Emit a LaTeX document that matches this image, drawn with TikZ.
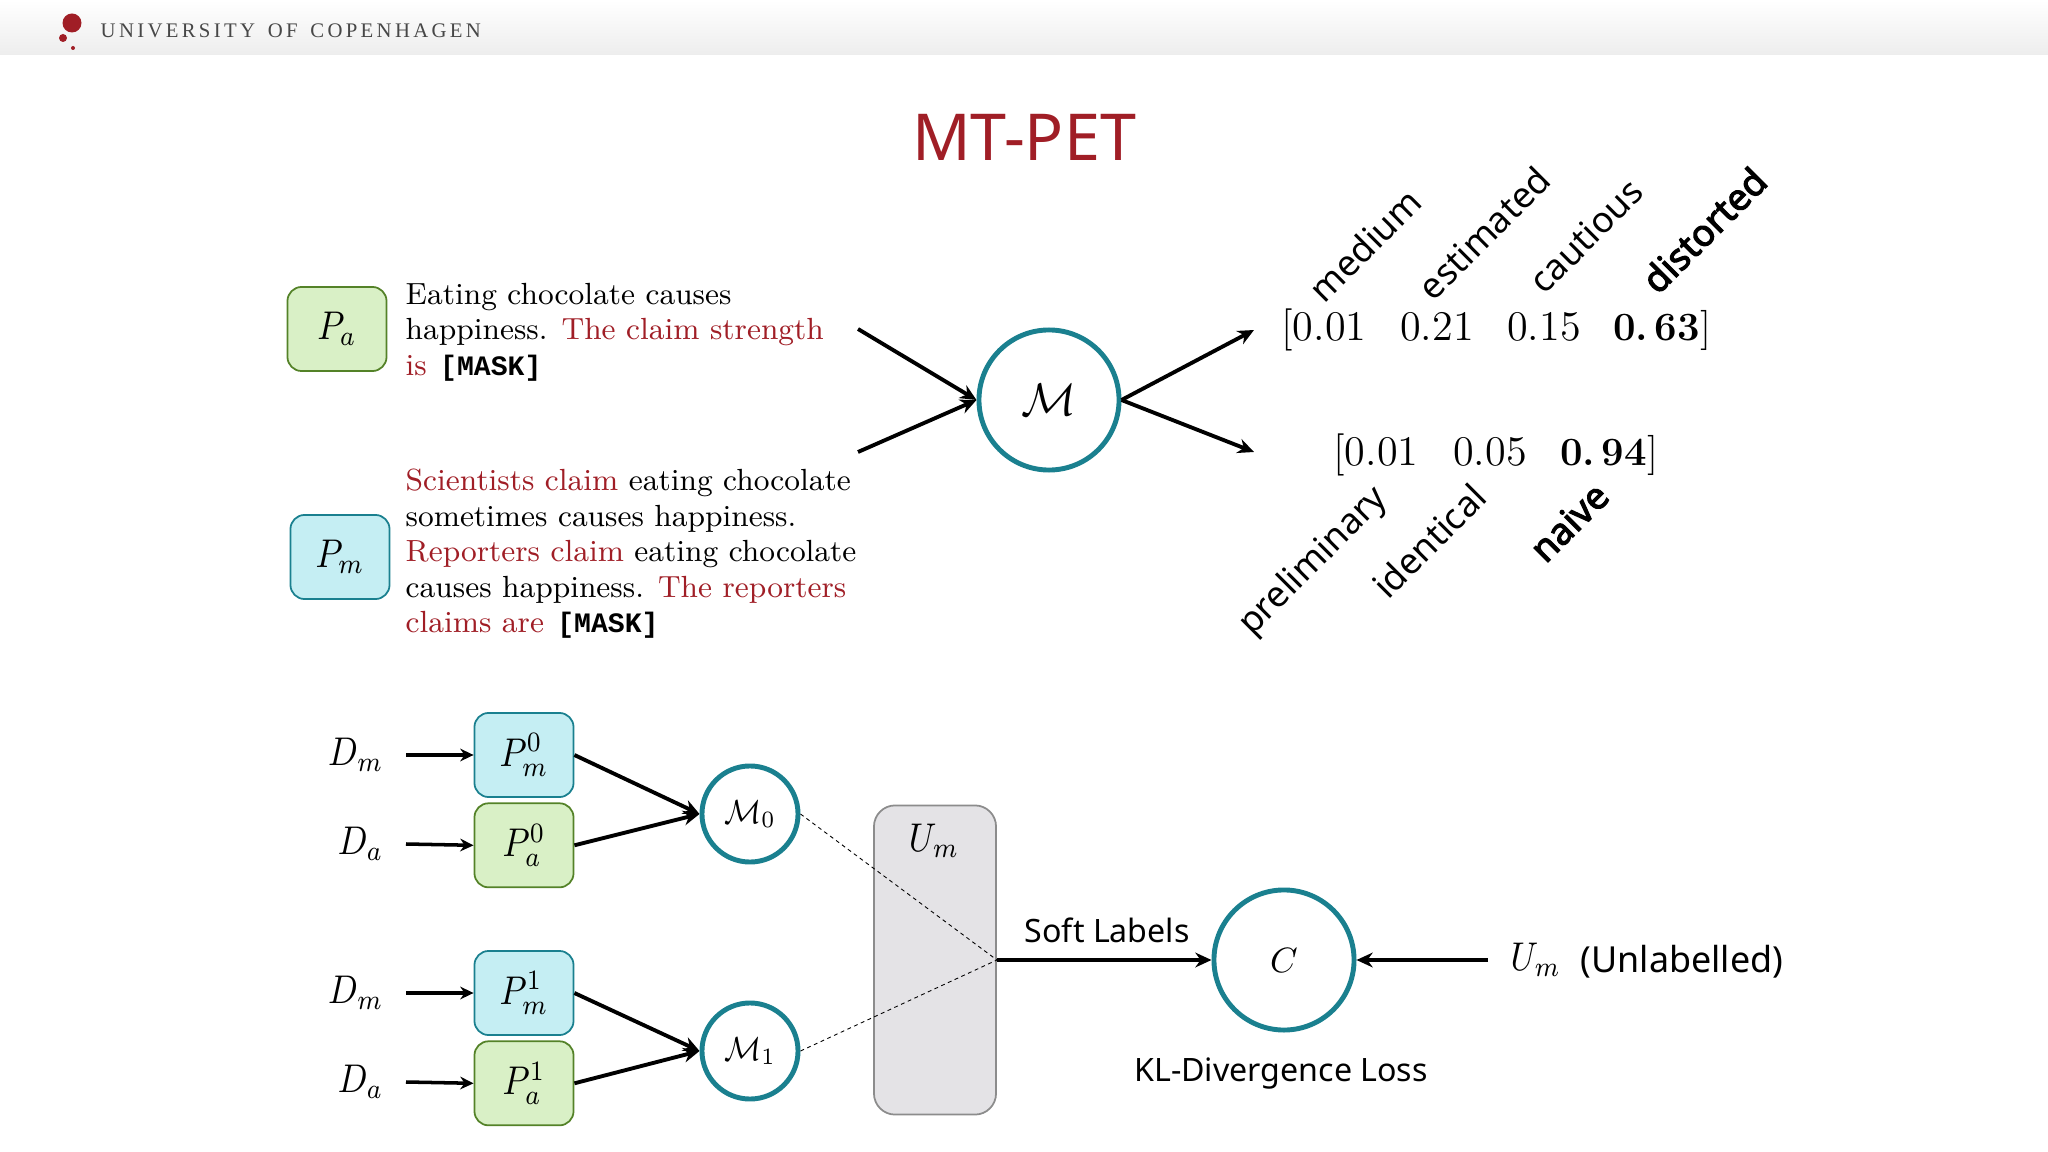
\documentclass[tikz,border=0pt]{standalone}
\usepackage{fix-cm}
\usepackage{graphicx}
\usepackage{xcolor}
\usepackage{fontspec}
\usepackage{tikz}
\usetikzlibrary{arrows.meta,positioning}
\setsansfont{Noto Sans}
\newfontfamily\logofont[LetterSpace=16,WordSpace=1.5]{Liberation Serif}
\newfontfamily\tagbold[FakeBold=3]{Noto Sans}
\newfontfamily\maskfont{Liberation Mono}
\definecolor{kured}{RGB}{160,30,38}
\definecolor{tealline}{RGB}{26,128,143}
\definecolor{tealfill}{RGB}{197,238,243}
\definecolor{greenline}{RGB}{84,130,40}
\definecolor{greenfill}{RGB}{217,240,198}
\definecolor{unlabelled}{RGB}{228,227,230}
\newcommand{\hl}[1]{\textcolor{kured}{#1}}
\newcommand{\mask}{\hspace{0.8pt}{\maskfont\bfseries\fontsize{8}{10}\selectfont [MASK]}}
\newcommand{\nm}[1]{\scalebox{0.87}[1]{$#1$}}
\newcommand{\bm}[1]{\nm{#1}\hspace{2.5pt}}

\begin{document}
\begin{tikzpicture}[
  x=0.01cm, y=-0.01cm,
  node distance=0.045cm,
  promptm/.style={draw=tealline, fill=tealfill, line width=0.5pt, rounded corners=4pt,
                  minimum width=0.99cm, minimum height=0.84cm, inner sep=0pt,
                  font=\fontsize{11.4}{13}\selectfont},
  prompta/.style={promptm, draw=greenline, fill=greenfill},
  model/.style={circle, draw=tealline, line width=1.4pt, fill=white, inner sep=0pt},
  words/.style={align=left, anchor=west, inner sep=0pt, font=\fontsize{8.7}{10.1}\selectfont},
  score/.style={inner sep=0pt, anchor=base, font=\fontsize{12}{14}\selectfont},
  topscore/.style={score, font=\bfseries\fontsize{11.4}{14}\selectfont},
  tag/.style={inner sep=0pt, rotate=45, font=\sffamily\fontsize{10.2}{12}\selectfont},
  topword/.style={tag, font=\tagbold\fontsize{10.5}{12}\selectfont},
  label/.style={inner sep=0pt, font=\sffamily\fontsize{9.15}{11}\selectfont},
  source/.style={anchor=east, inner xsep=0.22cm, inner ysep=0pt, font=\fontsize{11.4}{13}\selectfont},
  arrow/.style={-{Stealth[length=4.6pt,width=4.2pt]}, line width=1.1pt},
  small/.style={-{Stealth[length=3.8pt,width=3.6pt]}, line width=1pt},
  soft/.style={line width=0.25pt, dash pattern=on 1.1pt off 1pt}
]
  \useasboundingbox (0,0) rectangle (2048,1152);
  \shade[top color=white, bottom color=black!7] (0,0) rectangle (2048,55);
  \fill[kured] (72,23) circle (9.5) (63,38) circle (4) (73,48) circle (2);
  \node[inner sep=0pt, anchor=west, text=black!72] (ku) at (100,31) {\logofont\fontsize{5.9}{7}\selectfont UNIVERSITY OF COPENHAGEN};
  \node[text=kured, inner sep=0pt, font=\sffamily\fontsize{18.4}{22}\selectfont] (title) at (1024,137) {MT-PET};

  \node[prompta] (pa) at (337,329) {\bm{P_a}};
  \node[promptm] (pm) at (340,557) {\bm{P_m}};
  \node[words] (patext) at (405,332) {Eating chocolate causes\\happiness. \hl{The claim strength}\\\hl{is} \mask};
  \node[words] (pmtext) at (405,554) {\hl{Scientists claim} eating chocolate\\sometimes causes happiness.\\\hl{Reporters claim} eating chocolate\\causes happiness. \hl{The reporters}\\\hl{claims are} \mask};

  \node[model, minimum size=1.40cm, font=\fontsize{13}{15}\selectfont] (m) at (1049,400) {$\mathcal{M}$};
  \coordinate (painput) at (858,329);
  \coordinate (pminput) at (858,452);
  \coordinate (aout) at (1254,330);
  \coordinate (mout) at (1254,452);
  \draw[arrow] (painput) -- (m.west);
  \draw[arrow] (pminput) -- (m.west);
  \draw[arrow] (m.east) -- (aout);
  \draw[arrow] (m.east) -- (mout);

  \node[score] (a0) at (1324,341) {[0.01};
  \node[score] (a1) at (1437,341) {0.21};
  \node[score] (a2) at (1544,341) {0.15};
  \node[topscore] (a3) at (1662,341) {0.\,63\mdseries]};
  \node[score] (b0) at (1376,466) {[0.01};
  \node[score] (b1) at (1490,466) {0.05};
  \node[topscore] (b2) at (1609,466) {0.\,94\mdseries]};

  \node[tag] (t0) at (1365,245) {medium};
  \node[tag] (t1) at (1484,233) {estimated};
  \node[tag] (t2) at (1586,236) {cautious};
  \node[topword] (t3) at (1704,230) {distorted};
  \node[tag] (t4) at (1314,562) {preliminary};
  \node[tag] (t5) at (1429,541) {identical};
  \node[topword] (t6) at (1569,522) {naive};

  \node[promptm] (pm0) at (524,755) {\bm{P_m^0}};
  \node[prompta, below=of pm0] (pa0) {\bm{P_a^0}};
  \node[promptm] (pm1) at (524,993) {\bm{P_m^1}};
  \node[prompta, below=of pm1] (pa1) {\bm{P_a^1}};
  \node[source] (dm0) at (406,755) {\nm{D_m}};
  \node[source] (da0) at (406,844) {\nm{D_a}};
  \node[source] (dm1) at (406,993) {\nm{D_m}};
  \node[source] (da1) at (406,1082) {\nm{D_a}};
  \draw[small] (dm0.east) -- (pm0.west);
  \draw[small] (da0.east) -- (pa0.west);
  \draw[small] (dm1.east) -- (pm1.west);
  \draw[small] (da1.east) -- (pa1.west);

  \node[model, minimum size=0.96cm, font=\fontsize{9.5}{11}\selectfont] (m0) at (750,814) {\scalebox{0.9}[1]{$\mathcal{M}_0$}};
  \node[model, minimum size=0.96cm, font=\fontsize{9.5}{11}\selectfont] (m1) at (750,1051) {\scalebox{0.9}[1]{$\mathcal{M}_1$}};
  \draw[arrow] (pm0.east) -- (m0.west);
  \draw[arrow] (pa0.east) -- (m0.west);
  \draw[arrow] (pm1.east) -- (m1.west);
  \draw[arrow] (pa1.east) -- (m1.west);

  \node[draw=black!45, fill=unlabelled, line width=0.5pt, rounded corners=6pt,
        minimum width=1.22cm, minimum height=3.09cm, inner sep=0pt] (um) at (935,960) {};
  \node[inner sep=0pt, font=\fontsize{11.4}{13}\selectfont] (umlabel) at (934,841) {\nm{U_m}};
  \draw[soft] (m0.east) -- (um.east);
  \draw[soft] (m1.east) -- (um.east);

  \node[model, minimum size=1.40cm, font=\fontsize{10}{12}\selectfont] (c) at (1284,960) {$C$};
  \draw[arrow] (um.east) -- (c.west) node[midway, above=0.15cm, xshift=0.03cm, label, black] (softlabels) {Soft Labels};
  \node[label, anchor=west, inner xsep=0.22cm, font=\fontsize{11.4}{13}\selectfont] (unl) at (1488,960) {\nm{U_m}};
  \node[label, anchor=west, font=\sffamily\fontsize{10.2}{12}\selectfont] (unltext) at (1580,962) {(Unlabelled)};
  \draw[arrow] (unl.west) -- (c.east);
  \node[label] (kl) at (1281,1073) {KL-Divergence Loss};
\end{tikzpicture}
\end{document}
